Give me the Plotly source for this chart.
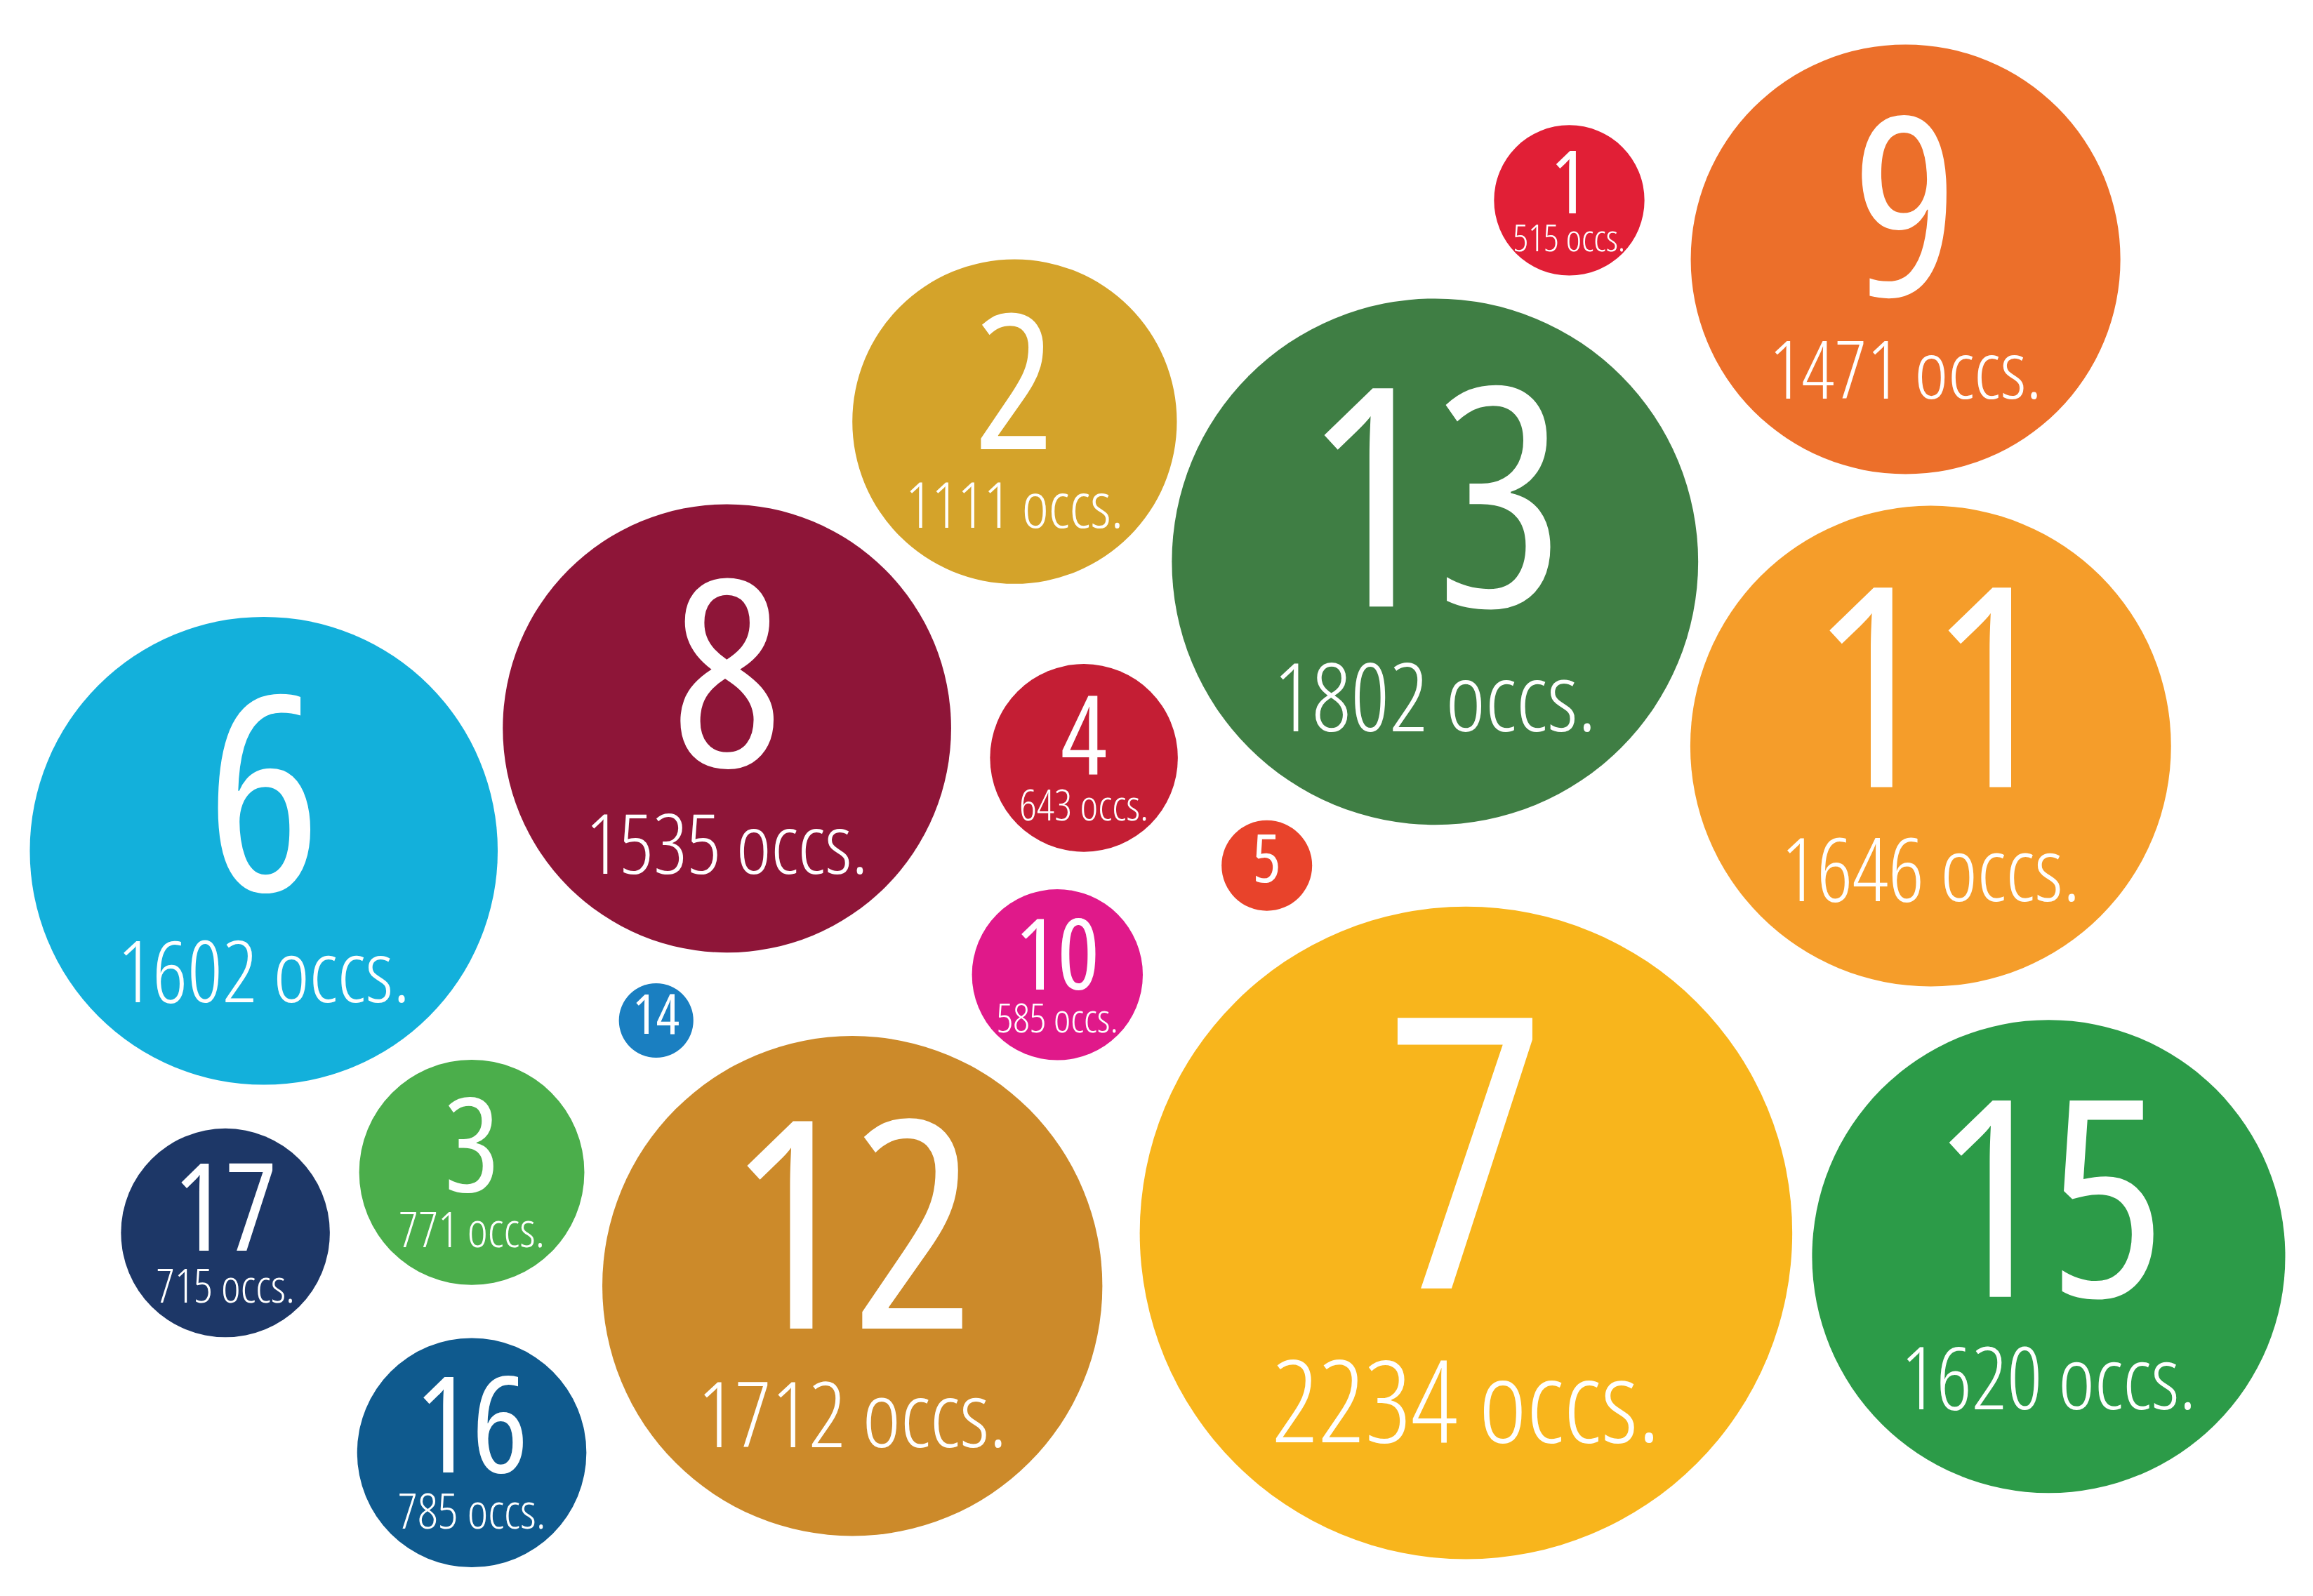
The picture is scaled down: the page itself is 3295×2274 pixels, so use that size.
import plotly.graph_objects as go

# SDG bubbles: goal number, occurrences, bubble centre (layout units of a 1568 x 1082 canvas)
goals = [1, 9, 2, 13, 8, 4, 11, 6, 5, 10, 14, 3, 17, 12, 7, 15, 16]
occs = [515, 1471, 1111, 1802, 1535, 643, 1646, 1602, 310, 585, 255, 771, 715, 1712, 2234, 1620, 785]
show_count = [True, True, True, True, True, True, True, True, False, True, False, True, True, True, True, True, True]
cx = [1060, 1288, 684, 969, 489, 731, 1305, 175, 855, 713, 441, 316, 149, 574, 990, 1385, 316]
cy = [132, 172, 282, 377, 490, 510, 502, 573, 583, 657, 688, 791, 832, 868, 832, 848, 981]
colors = ["#E11F36", "#EC6F2A", "#D4A32A", "#3F7E44", "#8E1538", "#C41E34", "#F59D2A", "#13B0DB",
          "#E8432B", "#E0198A", "#1A7FC1", "#4BAE4B", "#1D3767", "#CC8A2A", "#F8B51C", "#2C9B48", "#0F5A8E"]

W, H = 3295, 2274
UW, UH = 1568, 1082
scale = W / UW
k = 0.099  # radius per occurrence
FONT = "Open Sans"
CAP = 0.714

radius = [k * v for v in occs]

fig = go.Figure()

for x, y, r, c in zip(cx, cy, radius, colors):
    fig.add_shape(type="circle", xref="x", yref="y",
                  x0=x - r, x1=x + r, y0=y - r, y1=y + r,
                  fillcolor=c, line_width=0, layer="below")

# goal number
num_y = [y - 0.12 * r if s else y for y, r, s in zip(cy, radius, show_count)]
num_size = [(0.83 * r if s else 1.05 * r) / CAP * scale for r, s in zip(radius, show_count)]
fig.add_trace(go.Scatter(
    x=cx, y=num_y, mode="text",
    text=[str(g) for g in goals],
    textposition="middle center",
    textfont=dict(family=FONT, color="white", size=num_size, weight=530),
    hoverinfo="skip", showlegend=False,
))

# occurrences
sub_x = [x for x, s in zip(cx, show_count) if s]
sub_y = [y + 0.555 * r for y, r, s in zip(cy, radius, show_count) if s]
sub_txt = [f"{v} occs." for v, s in zip(occs, show_count) if s]
sub_size = [(7 + 0.218 * r) / CAP * scale for r, s in zip(radius, show_count) if s]
fig.add_trace(go.Scatter(
    x=sub_x, y=sub_y, mode="text",
    text=sub_txt,
    textposition="middle center",
    textfont=dict(family=FONT, color="white", size=sub_size, weight=300),
    hoverinfo="skip", showlegend=False,
))

fig.update_xaxes(range=[0, UW], visible=False, showgrid=False, zeroline=False)
fig.update_yaxes(range=[UH, 0], visible=False, showgrid=False, zeroline=False)
fig.update_layout(
    width=W, height=H,
    margin=dict(l=0, r=0, t=0, b=0),
    paper_bgcolor="white", plot_bgcolor="white",
    showlegend=False,
)

# condensed face of the variable font for the labels
js = """
document.querySelectorAll('.scatterlayer .textpoint text').forEach(function(t){
  t.style.fontStretch = '75%';
});
"""
fig.write_html("out.html", post_script=js)
